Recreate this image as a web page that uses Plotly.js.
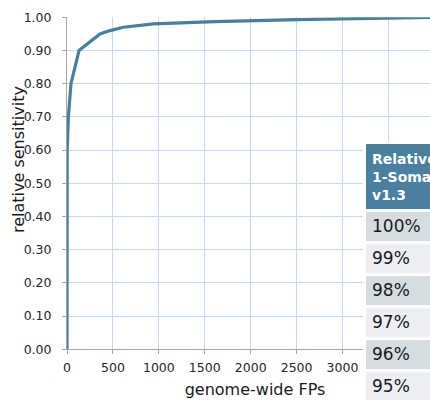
<!DOCTYPE html>
<html>
<head>
<meta charset="utf-8">
<script src="https://cdn.plot.ly/plotly-3.0.1.min.js"></script>
<style>
  html, body { margin: 0; padding: 0; overflow: hidden; background: #fff; }
  #chart { width: 445px; height: 420px; }
</style>
</head>
<body>
<div id="chart"></div>
<script>
// Genome-wide false positives vs. relative sensitivity
const fps = [0, 2, 15, 43, 131, 359, 468, 613, 940, 1610, 2500, 3440, 4000];
const sensitivity = [0, 0.60, 0.70, 0.80, 0.90, 0.95, 0.96, 0.97, 0.98, 0.987, 0.993, 0.996, 1.00];

// Summary table beside the curve
const tableHeader = ['<b>Relative<br>1-Somatic<br>v1.3</b>'];
const sensitivityLevels = ['100%', '99%', '98%', '97%', '96%', '95%'];

const W = 445, H = 420;
const plotLeft = 67, plotRight = 443;
const yTop = 17.3, yBottom = 349.3;

const font = 'DejaVu Sans, Verdana, sans-serif';
const gridColor = '#c6d9f1';
const axisColor = '#a6a6a6';

const curve = {
  type: 'scatter',
  mode: 'lines',
  x: fps,
  y: sensitivity,
  line: { color: '#44809f', width: 3.2 },
  hoverinfo: 'skip',
  showlegend: false
};

const rowFills = sensitivityLevels.map((_, i) => i % 2 === 0 ? '#d5dde1' : '#eceef2');

const table = {
  type: 'table',
  domain: {
    x: [(364 - plotLeft) / (plotRight - plotLeft), 1],
    y: [0, (H - 142.5) / H]
  },
  columnwidth: [1],
  header: {
    values: tableHeader,
    align: 'left',
    height: 64,
    fill: { color: '#4a7fa0' },
    line: { color: '#ffffff', width: 3 },
    font: { family: font, size: 14, color: '#ffffff' }
  },
  cells: {
    values: [sensitivityLevels],
    align: 'left',
    height: 32,
    fill: { color: [rowFills] },
    line: { color: '#ffffff', width: 3 },
    font: { family: font, size: 17, color: '#1a1a1a' }
  }
};

const layout = {
  width: W,
  height: H,
  margin: { l: plotLeft, r: W - plotRight, t: 0, b: 0 },
  paper_bgcolor: '#ffffff',
  plot_bgcolor: '#ffffff',
  font: { family: font, color: '#262626' },
  showlegend: false,
  xaxis: {
    range: [0, 4094],
    tick0: 0,
    dtick: 500,
    showgrid: true,
    gridcolor: gridColor,
    gridwidth: 1,
    zeroline: false,
    showline: true,
    linecolor: axisColor,
    linewidth: 1,
    ticks: 'outside',
    ticklen: 4,
    tickcolor: axisColor,
    ticklabelstandoff: 3,
    tickfont: { family: font, size: 12.5, color: '#262626' },
    title: { text: 'genome-wide FPs', font: { family: font, size: 16, color: '#1a1a1a' }, standoff: 9 },
    fixedrange: true
  },
  yaxis: {
    domain: [(H - yBottom) / H, (H - yTop) / H],
    range: [0, 1],
    tick0: 0,
    dtick: 0.1,
    tickformat: '.2f',
    showgrid: true,
    gridcolor: gridColor,
    gridwidth: 1,
    zeroline: false,
    showline: true,
    linecolor: axisColor,
    linewidth: 1,
    ticks: 'outside',
    ticklen: 4,
    tickcolor: axisColor,
    ticklabelstandoff: 8,
    tickfont: { family: font, size: 12.5, color: '#262626' },
    fixedrange: true
  },
  annotations: [{
    text: 'relative sensitivity',
    textangle: -90,
    xref: 'paper',
    yref: 'paper',
    x: 0,
    xshift: -49,
    y: (H - 160) / H,
    xanchor: 'center',
    yanchor: 'middle',
    showarrow: false,
    font: { family: font, size: 16, color: '#1a1a1a' }
  }]
};

Plotly.newPlot('chart', [curve, table], layout, { displayModeBar: false, staticPlot: true });
</script>
</body>
</html>
